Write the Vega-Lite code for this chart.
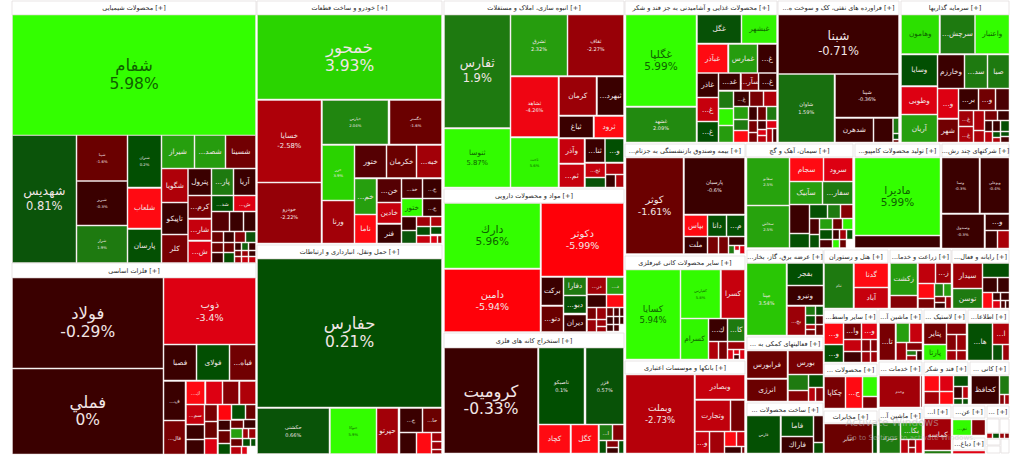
{"$schema":"https://vega.github.io/schema/vega-lite/v6.json","width":1024,"height":470,"autosize":{"type":"none"},"padding":0,"background":"#ffffff","config":{"view":{"stroke":null},"text":{"font":"DejaVu Sans"}},
"resolve":{"scale":{"size":"independent"}},
"datasets":{
"headers":[
{"x0":12,"x1":256,"y0":1,"y1":15,"name":"محصولات شیمیایی [+]"},
{"x0":12,"x1":256,"y0":263,"y1":278,"name":"فلزات اساسی [+]"},
{"x0":257,"x1":442,"y0":1,"y1":15,"name":"خودرو و ساخت قطعات [+]"},
{"x0":257,"x1":442,"y0":245,"y1":259,"name":"حمل ونقل، انبارداری و ارتباطات [+]"},
{"x0":444,"x1":624,"y0":1,"y1":15,"name":"انبوه سازی، املاک و مستغلات [+]"},
{"x0":444,"x1":624,"y0":189,"y1":203,"name":"مواد و محصولات دارویی [+]"},
{"x0":444,"x1":624,"y0":333,"y1":348,"name":"استخراج کانه های فلزی [+]"},
{"x0":625,"x1":777,"y0":1,"y1":15,"name":"محصولات غذایی و آشامیدنی به جز قند و شکر [+]"},
{"x0":778,"x1":899,"y0":1,"y1":15,"name":"...فراورده های نفتی، کک و سوخت ه [+]"},
{"x0":901,"x1":1009,"y0":1,"y1":15,"name":"سرمایه گذاریها [+]"},
{"x0":625,"x1":745,"y0":144,"y1":157,"name":"...بیمه وصندوق بازنشستگی به جزتام [+]"},
{"x0":746,"x1":853,"y0":144,"y1":157,"name":"سیمان، آهک و گچ [+]"},
{"x0":855,"x1":940,"y0":144,"y1":157,"name":"...تولید محصولات کامپیو [+]"},
{"x0":942,"x1":1009,"y0":144,"y1":157,"name":"...شرکتهای چند رش [+]"},
{"x0":625,"x1":745,"y0":256,"y1":270,"name":"سایر محصولات کانی غیرفلزی [+]"},
{"x0":625,"x1":745,"y0":361,"y1":374,"name":"بانکها و موسسات اعتباری [+]"},
{"x0":747,"x1":823,"y0":250,"y1":263,"name":"...عرضه برق، گاز، بخار [+]"},
{"x0":747,"x1":823,"y0":337,"y1":350,"name":"... فعالیتهای کمکی به [+]"},
{"x0":747,"x1":823,"y0":403,"y1":416,"name":"... ساخت محصولات [+]"},
{"x0":824,"x1":888,"y0":250,"y1":263,"name":"هتل و رستوران [+]"},
{"x0":890,"x1":951,"y0":250,"y1":263,"name":"...زراعت و خدما [+]"},
{"x0":952,"x1":1009,"y0":250,"y1":263,"name":"...رایانه و فعال [+]"},
{"x0":824,"x1":877,"y0":310,"y1":323,"name":"...سایر واسط [+]"},
{"x0":879,"x1":922,"y0":310,"y1":323,"name":"...ماشین آ [+]"},
{"x0":924,"x1":966,"y0":310,"y1":323,"name":"... لاستیک [+]"},
{"x0":968,"x1":1009,"y0":310,"y1":323,"name":"...اطلاعا [+]"},
{"x0":824,"x1":877,"y0":364,"y1":376,"name":"... محصولات [+]"},
{"x0":879,"x1":922,"y0":362,"y1":375,"name":"... خدمات [+]"},
{"x0":924,"x1":968,"y0":362,"y1":375,"name":"قند و شکر [+]"},
{"x0":970,"x1":1009,"y0":362,"y1":375,"name":"... کانی [+]"},
{"x0":824,"x1":877,"y0":411,"y1":423,"name":"مخابرات [+]"},
{"x0":879,"x1":922,"y0":409,"y1":422,"name":"...ماشین آ [+]"},
{"x0":924,"x1":951,"y0":406,"y1":418,"name":"...ا [+]"},
{"x0":953,"x1":985,"y0":406,"y1":418,"name":"...عن [+]"},
{"x0":953,"x1":985,"y0":438,"y1":450,"name":"...دباغ [+]"},
{"x0":987,"x1":1009,"y0":406,"y1":418,"name":"... [+]"},
{"x0":987,"x1":999,"y0":419,"y1":433},{"x0":1000,"x1":1009,"y0":419,"y1":433},{"x0":987,"x1":1000,"y0":439,"y1":445},{"x0":987,"x1":1000,"y0":446,"y1":453},{"x0":1001,"x1":1009,"y0":439,"y1":453}
],
"cells":[
{"x0":12.5,"x1":255.5,"y0":15,"y1":135,"change":5.98,"name":"شفام","pct":"5.98%","tier":1},
{"x0":12.5,"x1":76,"y0":135.5,"y1":262.5,"change":0.81,"name":"شهدیس","pct":"0.81%","tier":2},
{"x0":77,"x1":127,"y0":135.5,"y1":180.5,"change":-1.6,"name":"شپنا","pct":"-1.6%","tier":8},
{"x0":77,"x1":127,"y0":181.5,"y1":225,"change":-0.3,"name":"شبریز","pct":"-0.3%","tier":8},
{"x0":77,"x1":127,"y0":226,"y1":262.5,"change":1.9,"name":"شراز","pct":"1.9%","tier":8},
{"x0":128,"x1":161,"y0":135.5,"y1":187,"change":0.2,"name":"شتران","pct":"0.2%","tier":8},
{"x0":128,"x1":161,"y0":188.5,"y1":228,"change":-5,"name":"شلعاب","tier":6},
{"x0":128,"x1":161,"y0":229.5,"y1":262.5,"change":0.3,"name":"پارسان","tier":6},
{"x0":162,"x1":194,"y0":135.5,"y1":168,"change":2.4,"name":"شیراز","tier":6},
{"x0":195,"x1":225,"y0":135.5,"y1":168,"change":2.3,"name":"...شصد","tier":6},
{"x0":226,"x1":255.5,"y0":135.5,"y1":168,"change":-1.7,"name":"شسینا","tier":6},
{"x0":162,"x1":187.5,"y0":169,"y1":202,"change":-2.6,"name":"شگویا","tier":6},
{"x0":162,"x1":187.5,"y0":203,"y1":234,"change":-0.3,"name":"تاپیکو","tier":6},
{"x0":162,"x1":187.5,"y0":235,"y1":262.5,"change":-1.8,"name":"کلر","tier":6},
{"x0":188.5,"x1":211,"y0":169,"y1":195,"change":-0.3,"name":"پترول","tier":6},
{"x0":188.5,"x1":211,"y0":196,"y1":218,"change":-1.8,"name":"...کرم","tier":6},
{"x0":188.5,"x1":211,"y0":219.5,"y1":240,"change":-3,"name":"...شار","tier":6},
{"x0":188.5,"x1":211,"y0":241.5,"y1":262.5,"change":-3.4,"name":"...ش","tier":6},
{"x0":212,"x1":233,"y0":169,"y1":195,"change":1.9,"name":"...پار","tier":6},
{"x0":234,"x1":255.5,"y0":169,"y1":195,"change":-0.3,"name":"آریا","tier":6},
{"x0":212,"x1":233,"y0":196,"y1":211,"change":0.2,"name":"...شد","tier":7},
{"x0":234,"x1":255.5,"y0":196,"y1":211,"change":-3.4,"name":"...ش","tier":7},
{"x0":212,"x1":229,"y0":212,"y1":231,"change":-1.2},{"x0":230,"x1":243,"y0":212,"y1":231,"change":-0.5},{"x0":244,"x1":255.5,"y0":212,"y1":231,"change":-0.5},
{"x0":212,"x1":223,"y0":232,"y1":242,"change":-1.6},{"x0":224,"x1":234,"y0":232,"y1":242,"change":-0.5},{"x0":235,"x1":245,"y0":232,"y1":242,"change":-2},{"x0":246,"x1":255.5,"y0":232,"y1":242,"change":0.8},
{"x0":212,"x1":223,"y0":243,"y1":252,"change":-1.6},{"x0":224,"x1":234,"y0":243,"y1":252,"change":-1.6},
{"x0":212,"x1":223,"y0":253,"y1":262.5,"change":-0.5},{"x0":224,"x1":234,"y0":253,"y1":262.5,"change":0.2},
{"x0":235,"x1":241,"y0":243,"y1":250,"change":-0.3},{"x0":242,"x1":248,"y0":243,"y1":250,"change":1.2},{"x0":249,"x1":255.5,"y0":243,"y1":250,"change":-0.3},
{"x0":235,"x1":241,"y0":251,"y1":256,"change":-1.6},{"x0":242,"x1":248,"y0":251,"y1":256,"change":-2.3},{"x0":249,"x1":255.5,"y0":251,"y1":256,"change":-0.3},
{"x0":235,"x1":241,"y0":257,"y1":262.5,"change":-2.3},{"x0":242,"x1":248,"y0":257,"y1":262.5,"change":-3},{"x0":249,"x1":255.5,"y0":257,"y1":262.5,"change":-3},

{"x0":12.5,"x1":163,"y0":278,"y1":368,"change":-0.29,"name":"فولاد","pct":"-0.29%","tier":1},
{"x0":12.5,"x1":163,"y0":369,"y1":454,"change":0,"name":"فملي","pct":"0%","tier":1},
{"x0":164,"x1":255.5,"y0":278,"y1":344,"change":-3.4,"name":"ذوب","pct":"-3.4%","tier":4},
{"x0":164,"x1":196,"y0":345,"y1":380,"change":-0.3,"name":"فصبا","tier":6},
{"x0":197,"x1":229,"y0":345,"y1":380,"change":0.2,"name":"فولای","tier":6},
{"x0":230,"x1":255.5,"y0":345,"y1":380,"change":-1.7,"name":"...فباه","tier":6},
{"x0":164,"x1":185,"y0":381.5,"y1":420,"change":-0.5,"name":"...ف","tier":7},
{"x0":164,"x1":185,"y0":421,"y1":454,"change":-1.8,"name":"...فال","tier":7},
{"x0":186.5,"x1":204.5,"y0":381.5,"y1":404,"change":-5,"name":"...ك","tier":7},
{"x0":206,"x1":222,"y0":381.5,"y1":404,"change":-3.4},{"x0":223,"x1":238.5,"y0":381.5,"y1":404,"change":-2},{"x0":240,"x1":255.5,"y0":381.5,"y1":404,"change":-2.6},
{"x0":186.5,"x1":204,"y0":405,"y1":424,"change":-3,"name":"...سم","tier":7},
{"x0":205,"x1":217,"y0":405,"y1":421,"change":-1.8},{"x0":218.5,"x1":231,"y0":405,"y1":420,"change":-5.5},{"x0":232,"x1":245,"y0":405,"y1":419,"change":0.2},{"x0":246,"x1":255.5,"y0":405,"y1":419,"change":-1.6},
{"x0":186.5,"x1":204,"y0":425,"y1":439,"change":-0.5},{"x0":186.5,"x1":204,"y0":440,"y1":454,"change":-0.5},
{"x0":205,"x1":217,"y0":422,"y1":438,"change":-1.6},{"x0":205,"x1":217,"y0":439,"y1":454,"change":-3.4},
{"x0":218.5,"x1":230,"y0":420.5,"y1":430,"change":-0.3},{"x0":231,"x1":243,"y0":420.5,"y1":428,"change":-1.6},{"x0":244,"x1":255.5,"y0":420,"y1":428,"change":-0.3},
{"x0":218.5,"x1":230,"y0":431,"y1":443,"change":-1.6},{"x0":218.5,"x1":230,"y0":444,"y1":454,"change":0.2},
{"x0":231,"x1":242,"y0":429,"y1":438,"change":2.4},{"x0":243,"x1":248,"y0":429,"y1":438,"change":-2.3},{"x0":249,"x1":255.5,"y0":429,"y1":438,"change":-2.3},
{"x0":231,"x1":242,"y0":439,"y1":446,"change":-1.6},{"x0":243,"x1":250,"y0":439,"y1":446,"change":0.2},{"x0":251,"x1":255.5,"y0":439,"y1":446,"change":0.2},
{"x0":231,"x1":241,"y0":447,"y1":454,"change":-2.8},{"x0":242,"x1":247,"y0":447,"y1":454,"change":-3.4},

{"x0":257.5,"x1":441.5,"y0":15,"y1":99,"change":3.93,"name":"خمحور","pct":"3.93%","tier":1},
{"x0":257.5,"x1":321,"y0":100.5,"y1":182,"change":-2.58,"name":"خسایا","pct":"-2.58%","tier":6},
{"x0":257.5,"x1":321,"y0":183,"y1":243,"change":-2.22,"name":"خودرو","pct":"-2.22%","tier":7},
{"x0":322.5,"x1":388,"y0":100.5,"y1":144,"change":2.04,"name":"خپارس","pct":"2.04%","tier":8},
{"x0":390,"x1":441.5,"y0":100.5,"y1":144,"change":-1.6,"name":"خگستر","pct":"-1.6%","tier":8},
{"x0":322.5,"x1":354,"y0":145.5,"y1":200,"change":3.9,"name":"خزر","pct":"3.9%","tier":8},
{"x0":322.5,"x1":354,"y0":201,"y1":243,"change":-2.4,"name":"ورنا","tier":6},
{"x0":355,"x1":386,"y0":145.5,"y1":177.5,"change":-1.2,"name":"ختور","tier":6},
{"x0":387,"x1":416,"y0":145.5,"y1":177.5,"change":-1.6,"name":"خکرمان","tier":6},
{"x0":417,"x1":441.5,"y0":145.5,"y1":177.5,"change":-2.4,"name":"...خبه","tier":6},
{"x0":355,"x1":376,"y0":179,"y1":214,"change":2.4,"name":"...خم","tier":6},
{"x0":355,"x1":376,"y0":215,"y1":243,"change":-5,"name":"ناما","tier":6},
{"x0":377.5,"x1":401,"y0":179,"y1":202,"change":-1.2,"name":"...خن","tier":6},
{"x0":377.5,"x1":401,"y0":203,"y1":223,"change":-3,"name":"خادین","tier":6},
{"x0":377.5,"x1":401,"y0":224.5,"y1":243,"change":-0.3,"name":"فنر","tier":6},
{"x0":402,"x1":422,"y0":179,"y1":198,"change":-1,"name":"...خد","tier":7},
{"x0":423,"x1":441.5,"y0":179,"y1":198,"change":-0.3,"name":"...خ","tier":7},
{"x0":402,"x1":422,"y0":199,"y1":216,"change":5.9,"name":"ختور","tier":6},
{"x0":423,"x1":441.5,"y0":199,"y1":216,"change":-0.3,"name":"...خ","tier":7},
{"x0":402,"x1":416,"y0":217,"y1":230,"change":-0.3},{"x0":402,"x1":416,"y0":231,"y1":243,"change":0.8},
{"x0":417,"x1":430,"y0":217,"y1":226,"change":-2.4},{"x0":431,"x1":441.5,"y0":217,"y1":226,"change":-2.6},
{"x0":417,"x1":430,"y0":227,"y1":235,"change":0.2},{"x0":431,"x1":441.5,"y0":227,"y1":234,"change":0.2},
{"x0":417,"x1":430,"y0":236,"y1":243,"change":-3},{"x0":431,"x1":437,"y0":236,"y1":243,"change":-3.4},{"x0":438,"x1":441.5,"y0":236,"y1":243,"change":-2.3},

{"x0":257.5,"x1":441.5,"y0":259,"y1":407,"change":0.21,"name":"حفارس","pct":"0.21%","tier":1},
{"x0":257.5,"x1":329,"y0":408.5,"y1":453.5,"change":0.66,"name":"حکشتی","pct":"0.66%","tier":7},
{"x0":330.5,"x1":376,"y0":408.5,"y1":453.5,"change":5.9,"name":"حتوکا","pct":"5.9%","tier":8},
{"x0":377,"x1":398,"y0":408.5,"y1":453.5,"change":-2.4,"name":"حپرتو","tier":6},
{"x0":400,"x1":422,"y0":408.5,"y1":432,"change":-0.5,"name":"...ح","tier":7},
{"x0":423,"x1":441.5,"y0":408.5,"y1":432,"change":-1.6,"name":"...حا","tier":7},
{"x0":400,"x1":416,"y0":433,"y1":453.5,"change":-0.3},{"x0":417,"x1":431,"y0":433,"y1":453.5,"change":-5},
{"x0":432,"x1":441.5,"y0":433,"y1":441,"change":-2.3},{"x0":432,"x1":441.5,"y0":442,"y1":449,"change":-2.3},{"x0":432,"x1":441.5,"y0":450,"y1":453.5,"change":-2.3},

{"x0":444.5,"x1":510,"y0":15,"y1":127.5,"change":1.9,"name":"ثفارس","pct":"1.9%","tier":2},
{"x0":444.5,"x1":510,"y0":129,"y1":187,"change":5.87,"name":"ثنوسا","pct":"5.87%","tier":6},
{"x0":511,"x1":567,"y0":15,"y1":75.5,"change":2.32,"name":"ثشرق","pct":"2.32%","tier":7},
{"x0":568,"x1":623.5,"y0":15,"y1":75.5,"change":-2.27,"name":"ثقاف","pct":"-2.27%","tier":7},
{"x0":511,"x1":558,"y0":77,"y1":136.5,"change":-4.26,"name":"ثشاهد","pct":"-4.26%","tier":7},
{"x0":511,"x1":558,"y0":138,"y1":187,"change":5.6,"name":"ثاخت","pct":"5.6%","tier":8},
{"x0":559.5,"x1":596,"y0":77,"y1":115,"change":-2.3,"name":"کرمان","tier":6},
{"x0":597.5,"x1":623.5,"y0":77,"y1":115,"change":-0.3,"name":"...ثبهرد","tier":6},
{"x0":559.5,"x1":593,"y0":116.5,"y1":137.5,"change":-0.3,"name":"ثباغ","tier":6},
{"x0":594.5,"x1":623.5,"y0":116.5,"y1":137.5,"change":-5,"name":"ثرود","tier":6},
{"x0":559.5,"x1":584,"y0":139,"y1":163,"change":-3,"name":"وآذر","tier":6},
{"x0":585.5,"x1":604.5,"y0":139,"y1":162,"change":-0.3,"name":"...ثنا","tier":6},
{"x0":605.5,"x1":623.5,"y0":139,"y1":162,"change":0.2,"name":"...و","tier":6},
{"x0":559.5,"x1":584,"y0":164.5,"y1":187,"change":-3,"name":"...ثم","tier":6},
{"x0":585.5,"x1":605,"y0":163.5,"y1":177,"change":-3,"name":"...ثج","tier":7},
{"x0":606,"x1":623.5,"y0":163.5,"y1":174,"change":-2.6},
{"x0":585.5,"x1":605,"y0":178,"y1":187,"change":0.5},{"x0":606,"x1":615,"y0":175,"y1":187,"change":-0.3},{"x0":616,"x1":623.5,"y0":175,"y1":187,"change":-2.6},

{"x0":444.5,"x1":540,"y0":203.5,"y1":268,"change":5.96,"name":"دارك","pct":"5.96%","tier":3},
{"x0":444.5,"x1":540,"y0":269.5,"y1":331.5,"change":-5.94,"name":"دامین","pct":"-5.94%","tier":4},
{"x0":541.5,"x1":623.5,"y0":203.5,"y1":276,"change":-5.99,"name":"دکوثر","pct":"-5.99%","tier":4},
{"x0":541.5,"x1":563,"y0":277.5,"y1":305,"change":-0.3,"name":"برکت","tier":6},
{"x0":541.5,"x1":563,"y0":306.5,"y1":331.5,"change":-1.6,"name":"...دتو","tier":6},
{"x0":564,"x1":586,"y0":277.5,"y1":295,"change":1.9,"name":"دفارا","tier":6},
{"x0":564,"x1":586,"y0":296,"y1":313,"change":0.4,"name":"...دبو","tier":6},
{"x0":564,"x1":586,"y0":315,"y1":331.5,"change":-0.8,"name":"دیران","tier":6},
{"x0":587.5,"x1":606,"y0":277.5,"y1":294,"change":-2.4,"name":"...در","tier":7},
{"x0":607,"x1":623.5,"y0":277.5,"y1":294,"change":2.4,"name":"...د","tier":7},
{"x0":587.5,"x1":606,"y0":295,"y1":307,"change":-0.3},{"x0":607,"x1":623.5,"y0":295,"y1":307,"change":-5},
{"x0":587.5,"x1":596,"y0":308,"y1":319,"change":-1.8},{"x0":597,"x1":606,"y0":308,"y1":319,"change":-2.3},
{"x0":587.5,"x1":596,"y0":320,"y1":331.5,"change":-2.3},{"x0":597,"x1":606,"y0":320,"y1":326,"change":-2.3},{"x0":597,"x1":606,"y0":327,"y1":331.5,"change":-2.3},
{"x0":607,"x1":613,"y0":308,"y1":316,"change":-1.6},{"x0":614,"x1":619,"y0":308,"y1":316,"change":-1},{"x0":620,"x1":623.5,"y0":308,"y1":316,"change":-1},
{"x0":607,"x1":613,"y0":317,"y1":324,"change":-0.3},{"x0":614,"x1":619,"y0":317,"y1":324,"change":-0.3},{"x0":620,"x1":623.5,"y0":317,"y1":324,"change":-0.5},
{"x0":607,"x1":613,"y0":325,"y1":331,"change":-0.3},{"x0":614,"x1":619,"y0":325,"y1":331,"change":-1},

{"x0":444.5,"x1":537.5,"y0":348,"y1":453,"change":-0.33,"name":"کرومیت","pct":"-0.33%","tier":1},
{"x0":539,"x1":584,"y0":348,"y1":424,"change":0.1,"name":"تاصیکو","pct":"0.1%","tier":7},
{"x0":586,"x1":623.5,"y0":348,"y1":424,"change":0.57,"name":"فزر","pct":"0.57%","tier":7},
{"x0":539,"x1":570,"y0":425,"y1":453,"change":-5,"name":"کچاد","tier":6},
{"x0":571.5,"x1":598,"y0":425,"y1":453,"change":-5,"name":"کگل","tier":6},
{"x0":599.5,"x1":612,"y0":425,"y1":440,"change":1.9,"name":"...ا","tier":7},
{"x0":613,"x1":623.5,"y0":425,"y1":440,"change":-2},
{"x0":599.5,"x1":606,"y0":441,"y1":453,"change":0.4},{"x0":607,"x1":618,"y0":441,"y1":447,"change":-2},{"x0":607,"x1":618,"y0":448,"y1":453,"change":-0.3},{"x0":619,"x1":623.5,"y0":441,"y1":453,"change":0.4},

{"x0":626,"x1":696,"y0":15,"y1":106,"change":5.99,"name":"غگلپا","pct":"5.99%","tier":3},
{"x0":626,"x1":696,"y0":107.5,"y1":142,"change":2.09,"name":"غشهد","pct":"2.09%","tier":7},
{"x0":697.5,"x1":741,"y0":15,"y1":43,"change":0.5,"name":"غگل","tier":6},
{"x0":742,"x1":776.5,"y0":15,"y1":43,"change":5.5,"name":"غبشهر","tier":6},
{"x0":697.5,"x1":727.5,"y0":44.5,"y1":72.5,"change":-5,"name":"غبآذر","tier":6},
{"x0":729,"x1":757,"y0":44.5,"y1":72.5,"change":2.3,"name":"غمارس","tier":6},
{"x0":758,"x1":776.5,"y0":44.5,"y1":72.5,"change":-0.3,"name":"...غ","tier":6},
{"x0":697.5,"x1":718,"y0":73.5,"y1":97,"change":-0.3,"name":"غاذر","tier":6},
{"x0":719,"x1":740,"y0":73.5,"y1":90,"change":-0.3,"name":"...غد","tier":6},
{"x0":741.5,"x1":758,"y0":73.5,"y1":90,"change":-1.8,"name":"...سآر","tier":6},
{"x0":759,"x1":776.5,"y0":73.5,"y1":90,"change":-0.3,"name":"...غ","tier":6},
{"x0":697.5,"x1":718,"y0":98,"y1":121,"change":-3,"name":"...غ","tier":6},
{"x0":697.5,"x1":718,"y0":122,"y1":142,"change":0.2,"name":"...غ","tier":6},
{"x0":719,"x1":733,"y0":91.5,"y1":108,"change":1.9},{"x0":719,"x1":733,"y0":109,"y1":125,"change":5.6},{"x0":719,"x1":733,"y0":126,"y1":142,"change":2.3},
{"x0":734,"x1":749,"y0":91.5,"y1":106,"change":-0.3,"name":"...غ","tier":7},
{"x0":750,"x1":763,"y0":91.5,"y1":106,"change":-1.8},{"x0":764,"x1":776.5,"y0":91.5,"y1":106,"change":-2.6},
{"x0":734,"x1":748,"y0":107,"y1":119,"change":2.4},{"x0":734,"x1":748,"y0":120,"y1":130,"change":1.9},{"x0":734,"x1":748,"y0":131,"y1":142,"change":-5},
{"x0":749,"x1":757,"y0":107,"y1":120,"change":-0.5},{"x0":758,"x1":766,"y0":107,"y1":120,"change":-1.6},{"x0":767,"x1":776.5,"y0":107,"y1":120,"change":1.9},
{"x0":749,"x1":757,"y0":121,"y1":132,"change":-1.8},{"x0":749,"x1":757,"y0":133,"y1":142,"change":-1.8},
{"x0":758,"x1":766,"y0":121,"y1":129,"change":-1},{"x0":767,"x1":776.5,"y0":121,"y1":128,"change":-3.4},
{"x0":758,"x1":766,"y0":130,"y1":135,"change":-3.4},{"x0":758,"x1":766,"y0":136,"y1":142,"change":-2.8},{"x0":767,"x1":772,"y0":129,"y1":142,"change":-2.6},{"x0":773,"x1":776.5,"y0":129,"y1":142,"change":-1},

{"x0":778.5,"x1":898.5,"y0":15,"y1":73.5,"change":-0.71,"name":"شبنا","pct":"-0.71%","tier":2},
{"x0":778.5,"x1":834,"y0":74.5,"y1":142,"change":1.59,"name":"شاوان","pct":"1.59%","tier":7},
{"x0":835.5,"x1":898.5,"y0":74.5,"y1":117,"change":-0.36,"name":"شپنا","pct":"-0.36%","tier":7},
{"x0":835.5,"x1":873,"y0":118.5,"y1":142,"change":-0.3,"name":"شدهرن","tier":6},
{"x0":874,"x1":892.5,"y0":118.5,"y1":142,"change":-0.3},{"x0":893.5,"x1":898.5,"y0":118.5,"y1":133,"change":1.9},{"x0":893.5,"x1":898.5,"y0":134,"y1":139,"change":0.3},{"x0":893.5,"x1":898.5,"y0":140,"y1":142,"change":-1.6},

{"x0":901.5,"x1":939,"y0":15,"y1":53.5,"change":4.5,"name":"وهامون","tier":6},
{"x0":940.5,"x1":974.5,"y0":15,"y1":53.5,"change":1.9,"name":"...سرچش","tier":6},
{"x0":975.5,"x1":1009,"y0":15,"y1":53.5,"change":5.9,"name":"واعتبار","tier":6},
{"x0":901.5,"x1":937,"y0":55,"y1":85.5,"change":0.2,"name":"وسایا","tier":6},
{"x0":938,"x1":964,"y0":55,"y1":88,"change":-0.7,"name":"وخارزم","tier":6},
{"x0":965,"x1":987,"y0":55,"y1":88,"change":1.9,"name":"...سد","tier":6},
{"x0":988,"x1":1009,"y0":55,"y1":88,"change":1.9,"name":"صبا","tier":6},
{"x0":901.5,"x1":937,"y0":87,"y1":114,"change":-3.4,"name":"وطوبی","tier":6},
{"x0":901.5,"x1":937,"y0":115,"y1":142,"change":2.4,"name":"آریان","tier":6},
{"x0":938,"x1":958,"y0":89,"y1":118,"change":-3.4,"name":"...و","tier":6},
{"x0":938,"x1":958,"y0":119.5,"y1":142,"change":-1.7,"name":"شهر","tier":6},
{"x0":959,"x1":978,"y0":89,"y1":110,"change":-0.3,"name":"...بر","tier":6},
{"x0":979,"x1":995,"y0":89,"y1":110,"change":-1.7,"name":"...و","tier":6},
{"x0":996,"x1":1009,"y0":89,"y1":110,"change":-1},
{"x0":959,"x1":973,"y0":111,"y1":126,"change":-2.4,"name":"...غ","tier":7},
{"x0":959,"x1":973,"y0":127,"y1":142,"change":-2.6,"name":"...غ","tier":7},
{"x0":974,"x1":984,"y0":111,"y1":130,"change":-2.6},{"x0":974,"x1":984,"y0":131,"y1":142,"change":-2.6},
{"x0":985,"x1":997,"y0":111,"y1":120,"change":-1.8},{"x0":998,"x1":1009,"y0":111,"y1":120,"change":-0.3},
{"x0":985,"x1":992,"y0":121,"y1":131,"change":-0.3},{"x0":993,"x1":1000,"y0":121,"y1":131,"change":-0.3},{"x0":1001,"x1":1009,"y0":121,"y1":131,"change":0.3},
{"x0":985,"x1":992,"y0":132,"y1":142,"change":-2.8},{"x0":993,"x1":1000,"y0":132,"y1":137,"change":0.3},{"x0":993,"x1":1000,"y0":138,"y1":142,"change":-2.6},{"x0":1001,"x1":1009,"y0":132,"y1":136,"change":0.3},{"x0":1001,"x1":1009,"y0":137,"y1":142,"change":-1},

{"x0":626,"x1":683,"y0":158,"y1":253.5,"change":-1.61,"name":"کوثر","pct":"-1.61%","tier":4},
{"x0":684.5,"x1":744.5,"y0":158,"y1":214,"change":-0.6,"name":"پارسیان","pct":"-0.6%","tier":7},
{"x0":684.5,"x1":707,"y0":215.5,"y1":236,"change":-5,"name":"بپاس","tier":6},
{"x0":708,"x1":726,"y0":215.5,"y1":236,"change":0.3,"name":"دانا","tier":6},
{"x0":727,"x1":744.5,"y0":215.5,"y1":236,"change":0.3,"name":"...م","tier":6},
{"x0":684.5,"x1":707,"y0":237,"y1":253.5,"change":-0.4,"name":"ملت","tier":6},
{"x0":708,"x1":718,"y0":237,"y1":253.5,"change":-1.8},{"x0":719,"x1":728,"y0":237,"y1":253.5,"change":-1.8},{"x0":729,"x1":744.5,"y0":237,"y1":245,"change":-0.3},
{"x0":729,"x1":734,"y0":246,"y1":253.5,"change":1.9},{"x0":735,"x1":739,"y0":246,"y1":250,"change":-3.4},{"x0":740,"x1":744.5,"y0":246,"y1":253.5,"change":-3.4},

{"x0":747,"x1":789,"y0":158,"y1":205,"change":2.5,"name":"سفانو","pct":"2.5%","tier":8},
{"x0":747,"x1":789,"y0":206,"y1":247.5,"change":2.5,"name":"سخاش","pct":"2.5%","tier":8},
{"x0":790,"x1":823,"y0":158,"y1":181,"change":-5,"name":"سجام","tier":6},
{"x0":824,"x1":852.5,"y0":158,"y1":181,"change":-3.4,"name":"سرود","tier":6},
{"x0":790,"x1":822,"y0":182,"y1":204,"change":2.4,"name":"سآبیک","tier":6},
{"x0":823,"x1":852.5,"y0":182,"y1":204,"change":1.9,"name":"...سفار","tier":6},
{"x0":790,"x1":809,"y0":205,"y1":233,"change":-0.5},{"x0":790,"x1":809,"y0":234,"y1":247.5,"change":0.3},
{"x0":810,"x1":827,"y0":205,"y1":218,"change":0.3},{"x0":828,"x1":840,"y0":205,"y1":218,"change":1.9},{"x0":841,"x1":852.5,"y0":205,"y1":218,"change":-2},
{"x0":810,"x1":819,"y0":219,"y1":234,"change":-1},{"x0":810,"x1":819,"y0":235,"y1":247.5,"change":0.3},
{"x0":820,"x1":832,"y0":219,"y1":229,"change":2.4},{"x0":833,"x1":842,"y0":219,"y1":229,"change":-1.6},{"x0":843,"x1":852.5,"y0":219,"y1":229,"change":5.6},
{"x0":820,"x1":832,"y0":230,"y1":239,"change":0.3},{"x0":833,"x1":839,"y0":230,"y1":239,"change":-0.3},{"x0":840,"x1":846,"y0":230,"y1":239,"change":-2.4},{"x0":847,"x1":852.5,"y0":230,"y1":239,"change":0.3},
{"x0":820,"x1":832,"y0":240,"y1":247.5,"change":-1},{"x0":833,"x1":839,"y0":240,"y1":247.5,"change":5.6},{"x0":840,"x1":846,"y0":240,"y1":247.5,"change":-1.6},

{"x0":855,"x1":940,"y0":158,"y1":235,"change":5.99,"name":"مادیرا","pct":"5.99%","tier":3},
{"x0":855,"x1":940,"y0":236,"y1":247.5,"change":-0.3},
{"x0":942,"x1":979,"y0":158,"y1":213,"change":-0.3,"name":"وصنا","pct":"-0.3%","tier":8},
{"x0":980.5,"x1":1009,"y0":158,"y1":213,"change":-0.4,"name":"وبوعلی","pct":"-0.4%","tier":8},
{"x0":942,"x1":984,"y0":214.5,"y1":248,"change":-0.3,"name":"وصندوق","pct":"-0.3%","tier":8},
{"x0":985.5,"x1":1009,"y0":214.5,"y1":230,"change":-0.3,"name":"...و","tier":6},
{"x0":985.5,"x1":997,"y0":231,"y1":248,"change":-0.3},{"x0":998,"x1":1009,"y0":231,"y1":248,"change":-2.5},

{"x0":626,"x1":680,"y0":270,"y1":359,"change":5.94,"name":"کسایا","pct":"5.94%","tier":5},
{"x0":681,"x1":720,"y0":270,"y1":318,"change":5.8,"name":"کفپارس","pct":"5.8%","tier":8},
{"x0":681,"x1":708,"y0":319,"y1":359,"change":5.6,"name":"کسرام","tier":6},
{"x0":721.5,"x1":744.5,"y0":270,"y1":318,"change":-3,"name":"کسرا","tier":6},
{"x0":709,"x1":727,"y0":319,"y1":341,"change":-0.3,"name":"...ك","tier":6},
{"x0":728,"x1":744.5,"y0":319,"y1":341,"change":1.9,"name":"...کا","tier":6},
{"x0":709,"x1":718,"y0":342,"y1":359,"change":-2.6},{"x0":719,"x1":727,"y0":342,"y1":359,"change":-1.8},{"x0":728,"x1":744.5,"y0":342,"y1":349,"change":-2.3},
{"x0":728,"x1":733,"y0":350,"y1":359,"change":-3.4},{"x0":734,"x1":739,"y0":350,"y1":354,"change":-3.4},{"x0":734,"x1":739,"y0":355,"y1":359,"change":-0.3},{"x0":740,"x1":744.5,"y0":350,"y1":359,"change":-3.4},

{"x0":626,"x1":694,"y0":375,"y1":453,"change":-2.73,"name":"وبملت","pct":"-2.73%","tier":5},
{"x0":695.5,"x1":744.5,"y0":375,"y1":399,"change":-3,"name":"وبصادر","tier":6},
{"x0":695.5,"x1":730,"y0":400.5,"y1":431,"change":-2.9,"name":"وتجارت","tier":6},
{"x0":731,"x1":744.5,"y0":400.5,"y1":431,"change":-1.8},
{"x0":695.5,"x1":709,"y0":432,"y1":453,"change":-3,"name":"...و","tier":6},
{"x0":710,"x1":724,"y0":432,"y1":453,"change":-2.4},{"x0":725,"x1":736,"y0":432,"y1":446,"change":-5},{"x0":737,"x1":744.5,"y0":432,"y1":446,"change":-3},
{"x0":725,"x1":741,"y0":447,"y1":453,"change":-0.3},{"x0":742,"x1":744.5,"y0":447,"y1":453,"change":-1.8},

{"x0":747,"x1":786,"y0":263.5,"y1":335,"change":3.54,"name":"مپنا","pct":"3.54%","tier":7},
{"x0":787.5,"x1":823,"y0":263.5,"y1":285,"change":0.2,"name":"بفجر","tier":6},
{"x0":787.5,"x1":823,"y0":286,"y1":305,"change":-0.4,"name":"ونیرو","tier":6},
{"x0":787.5,"x1":805,"y0":306.5,"y1":335,"change":-2.3,"name":"...بج","tier":7},
{"x0":806,"x1":815,"y0":306.5,"y1":315,"change":1.9},{"x0":816,"x1":823,"y0":306.5,"y1":315,"change":0.3},
{"x0":806,"x1":815,"y0":316,"y1":324,"change":0.3},{"x0":816,"x1":823,"y0":316,"y1":324,"change":-1},
{"x0":806,"x1":815,"y0":325,"y1":329,"change":-2.6},{"x0":806,"x1":815,"y0":330,"y1":335,"change":-1.8},{"x0":816,"x1":823,"y0":325,"y1":335,"change":-1.6},

{"x0":747,"x1":787,"y0":351,"y1":378,"change":-1.6,"name":"فرابورس","tier":6},
{"x0":788.5,"x1":823,"y0":351,"y1":374,"change":-1.8,"name":"بورس","tier":6},
{"x0":747,"x1":787,"y0":379.5,"y1":401,"change":-1.6,"name":"انرژی","tier":6},
{"x0":788.5,"x1":808,"y0":375,"y1":390,"change":1.9},{"x0":809,"x1":823,"y0":375,"y1":387,"change":0.3},
{"x0":788.5,"x1":808,"y0":391,"y1":401,"change":-2},{"x0":809,"x1":815,"y0":388,"y1":401,"change":-2.8},{"x0":816,"x1":823,"y0":388,"y1":401,"change":-2},

{"x0":747,"x1":780,"y0":416,"y1":453,"change":0.3,"name":"فارس","tier":8},
{"x0":781.5,"x1":813,"y0":416,"y1":436,"change":0.3,"name":"فاما","tier":6},
{"x0":781.5,"x1":813,"y0":437,"y1":453,"change":-0.5,"name":"فاراك","tier":6},
{"x0":814,"x1":823,"y0":416,"y1":442,"change":-0.7},{"x0":814,"x1":823,"y0":443,"y1":453,"change":0.3},

{"x0":824.5,"x1":853,"y0":263.5,"y1":308,"change":1.9,"name":"ثنام","tier":8},
{"x0":854.5,"x1":888,"y0":263.5,"y1":287,"change":-5,"name":"گدنا","tier":6},
{"x0":854.5,"x1":888,"y0":288,"y1":308,"change":-3,"name":"آباد","tier":6},

{"x0":890.5,"x1":917,"y0":263.5,"y1":295,"change":2.3,"name":"زکشت","tier":6},
{"x0":890.5,"x1":917,"y0":296,"y1":308,"change":-2},
{"x0":918.5,"x1":935,"y0":263.5,"y1":283,"change":-2.9},
{"x0":936,"x1":951,"y0":263.5,"y1":283,"change":-2.3,"name":"...ز","tier":6},
{"x0":918.5,"x1":934,"y0":284,"y1":298,"change":-5},{"x0":918.5,"x1":934,"y0":299,"y1":308,"change":-1.8},
{"x0":935,"x1":943,"y0":284,"y1":296,"change":1.9},{"x0":944,"x1":951,"y0":284,"y1":296,"change":2.4},
{"x0":935,"x1":945,"y0":297,"y1":302,"change":-1.8},{"x0":935,"x1":945,"y0":303,"y1":308,"change":-0.5},{"x0":946,"x1":951,"y0":297,"y1":308,"change":-2.3},

{"x0":953,"x1":982,"y0":263.5,"y1":288,"change":-2.3,"name":"سیدار","tier":6},
{"x0":953,"x1":982,"y0":289,"y1":308,"change":1.9,"name":"توسن","tier":6},
{"x0":983,"x1":1009,"y0":263.5,"y1":277,"change":0.2},{"x0":983,"x1":997,"y0":278,"y1":292,"change":-0.5},{"x0":998,"x1":1009,"y0":278,"y1":292,"change":-0.3},
{"x0":983,"x1":992,"y0":293,"y1":308,"change":-5},{"x0":993,"x1":1000,"y0":293,"y1":300,"change":-0.3},{"x0":1001,"x1":1009,"y0":293,"y1":300,"change":-0.3},
{"x0":993,"x1":1000,"y0":301,"y1":308,"change":-3.4},{"x0":1001,"x1":1005,"y0":301,"y1":308,"change":-1},{"x0":1006,"x1":1009,"y0":301,"y1":308,"change":-0.3},

{"x0":824.5,"x1":843,"y0":323.5,"y1":344,"change":-5,"name":"...و","tier":6},
{"x0":844,"x1":861,"y0":323.5,"y1":339,"change":-1.8,"name":"...وا","tier":6},
{"x0":862,"x1":877,"y0":323.5,"y1":339,"change":-3.6,"name":"...و","tier":6},
{"x0":824.5,"x1":843,"y0":345,"y1":362,"change":0.3,"name":"...و","tier":6},
{"x0":844,"x1":861,"y0":340,"y1":351,"change":-3},{"x0":862,"x1":870,"y0":340,"y1":351,"change":-2},{"x0":871,"x1":877,"y0":340,"y1":351,"change":-2},
{"x0":844,"x1":861,"y0":352,"y1":362,"change":-0.8},{"x0":862,"x1":870,"y0":352,"y1":362,"change":-2.3},{"x0":871,"x1":877,"y0":352,"y1":362,"change":-2.3},

{"x0":879.5,"x1":895,"y0":323.5,"y1":360,"change":-1.8,"name":"...تا","tier":6},
{"x0":896.5,"x1":909,"y0":323.5,"y1":342,"change":2.4},{"x0":910,"x1":922,"y0":323.5,"y1":342,"change":-3},
{"x0":896.5,"x1":906,"y0":343,"y1":360,"change":-2.3},{"x0":907,"x1":922,"y0":343,"y1":350,"change":-2},
{"x0":907,"x1":916,"y0":351,"y1":355,"change":1.9},{"x0":907,"x1":916,"y0":356,"y1":360,"change":-2.3},{"x0":917,"x1":922,"y0":351,"y1":360,"change":-0.3},

{"x0":924,"x1":946,"y0":323.5,"y1":344,"change":-1.7,"name":"پتایر","tier":6},
{"x0":924,"x1":946,"y0":345,"y1":360,"change":5.6,"name":"پارتا","tier":6},
{"x0":947,"x1":966,"y0":323.5,"y1":334,"change":-2},
{"x0":947,"x1":956,"y0":335,"y1":350,"change":-2},{"x0":957,"x1":966,"y0":335,"y1":350,"change":-2.3},
{"x0":947,"x1":956,"y0":351,"y1":360,"change":-2.4},{"x0":957,"x1":966,"y0":351,"y1":360,"change":-2.3},

{"x0":968,"x1":992,"y0":323.5,"y1":360,"change":0.3,"name":"...ها","tier":6},
{"x0":993,"x1":1009,"y0":323.5,"y1":344,"change":-2.6,"name":"...ا","tier":6},
{"x0":993,"x1":1002,"y0":345,"y1":360,"change":0.6},{"x0":1003,"x1":1009,"y0":345,"y1":360,"change":-2.3},

{"x0":824.5,"x1":845,"y0":377,"y1":408,"change":-1.8,"name":"چکاپا","tier":6},
{"x0":846,"x1":862,"y0":377,"y1":408,"change":-5,"name":"...ج","tier":6},
{"x0":863,"x1":877,"y0":377,"y1":396,"change":5.8},{"x0":863,"x1":877,"y0":397,"y1":408,"change":-1.8},

{"x0":879.5,"x1":920,"y0":376,"y1":407,"change":-2.4,"name":"وخدم","tier":8},{"x0":921,"x1":922,"y0":376,"y1":407,"change":-1.8},

{"x0":924.5,"x1":939,"y0":376,"y1":391,"change":-5},{"x0":940,"x1":953,"y0":376,"y1":391,"change":-3.4},{"x0":954,"x1":968,"y0":376,"y1":386,"change":0.3},
{"x0":924.5,"x1":939,"y0":392,"y1":404,"change":-2.4},{"x0":940,"x1":953,"y0":392,"y1":404,"change":-5},
{"x0":954,"x1":962,"y0":387,"y1":398,"change":-0.3},{"x0":963,"x1":968,"y0":387,"y1":398,"change":-2.8},{"x0":954,"x1":962,"y0":399,"y1":404,"change":0.3},{"x0":963,"x1":968,"y0":399,"y1":404,"change":0.3},

{"x0":971.5,"x1":999,"y0":376,"y1":404,"change":-0.5,"name":"کحافظ","tier":6},
{"x0":1000,"x1":1009,"y0":376,"y1":394,"change":1.9},{"x0":1000,"x1":1004,"y0":395,"y1":404,"change":-2},{"x0":1005,"x1":1009,"y0":395,"y1":404,"change":-2.4},

{"x0":824.5,"x1":872,"y0":424,"y1":453,"change":-1.6,"name":"اخابر","tier":7},{"x0":873,"x1":877,"y0":424,"y1":453,"change":0.3},

{"x0":879.5,"x1":900,"y0":423,"y1":453,"change":1.9,"name":"سیتراد","tier":7},
{"x0":901,"x1":922,"y0":423,"y1":439,"change":2.4,"name":"...بكا","tier":6},
{"x0":901,"x1":908,"y0":440,"y1":453,"change":-2.8},{"x0":909,"x1":915,"y0":440,"y1":447,"change":-2},{"x0":916,"x1":922,"y0":440,"y1":453,"change":-3.4},{"x0":909,"x1":915,"y0":448,"y1":453,"change":-2.3},

{"x0":924.5,"x1":951,"y0":419,"y1":450,"change":-2.4,"name":"کماسه","tier":6},
{"x0":924.5,"x1":951,"y0":451,"y1":453.5,"change":1.9},
{"x0":953,"x1":971,"y0":420,"y1":435,"change":5.8,"name":"...نم","tier":7},
{"x0":972,"x1":985,"y0":420,"y1":435,"change":-2},
{"x0":953,"x1":985,"y0":451,"y1":453.5,"change":-3.6},
{"x0":987,"x1":992,"y0":433.5,"y1":438,"change":-2.8},{"x0":993,"x1":999,"y0":433.5,"y1":438,"change":0.5},{"x0":1000,"x1":1004,"y0":433.5,"y1":438,"change":-2.3},{"x0":1005,"x1":1009,"y0":433.5,"y1":438,"change":-2}
],
"notes":[
{"x0":838,"x1":946,"y0":414,"y1":432,"name":"Activate Windows","tier":1},
{"x0":836,"x1":986,"y0":429,"y1":447,"name":"Go to Settings to activate Windows.","tier":2}
]},
"layer":[
{"data":{"name":"headers"},"mark":{"type":"rect","fill":"#ffffff","stroke":"#e3dede","strokeWidth":0.8},
 "encoding":{"x":{"field":"x0","type":"quantitative","scale":{"domain":[0,1024],"nice":false,"zero":false},"axis":null},"x2":{"field":"x1"},"y":{"field":"y0","type":"quantitative","scale":{"domain":[470,0],"nice":false,"zero":false},"axis":null},"y2":{"field":"y1"}}},
{"data":{"name":"headers"},"transform":[{"filter":"datum.name"},{"fold":["x0","x1"],"as":["xk","xv"]},{"fold":["y0","y1"],"as":["yk","yv"]},{"aggregate":[{"op":"mean","field":"xv","as":"cx"},{"op":"mean","field":"yv","as":"cy"}],"groupby":["x0","y0","name"]}],
 "mark":{"type":"text","fontSize":6.5,"color":"#2b2b2b","align":"center","baseline":"middle"},
 "encoding":{"x":{"field":"cx","type":"quantitative","axis":null},"y":{"field":"cy","type":"quantitative","axis":null},"text":{"field":"name"}}},
{"data":{"name":"cells"},"mark":{"type":"rect","stroke":"#e8dcdc","strokeWidth":0.5},
 "encoding":{"x":{"field":"x0","type":"quantitative","axis":null},"x2":{"field":"x1"},"y":{"field":"y0","type":"quantitative","axis":null},"y2":{"field":"y1"},
 "color":{"field":"change","type":"quantitative","legend":null,"scale":{"type":"linear","clamp":true,"domain":[-6,-5,-3.4,-2.5,-1.6,-0.7,0,0.01,0.8,1.9,2.3,3.93,6],"range":["#ff0008","#ff0a12","#dd0012","#a90008","#6a0000","#3a0000","#3a0000","#004d00","#0b540a","#1e7a10","#269c0e","#2ad400","#33ff00"]}}}},
{"data":{"name":"cells"},"transform":[{"filter":"datum.name && !datum.pct"},{"fold":["x0","x1"],"as":["xk","xv"]},{"fold":["y0","y1"],"as":["yk","yv"]},{"aggregate":[{"op":"mean","field":"xv","as":"cx"},{"op":"mean","field":"yv","as":"cy"}],"groupby":["x0","y0","name","change","tier"]}],
 "mark":{"type":"text","align":"center","baseline":"middle"},
 "encoding":{"x":{"field":"cx","type":"quantitative","axis":null},"y":{"field":"cy","type":"quantitative","axis":null},"text":{"field":"name"},"size":{"field":"tier","type":"quantitative","legend":null,"scale":{"zero":false,"nice":false,"domain":[1,2,3,4,5,6,7,8],"range":[16.5,12.5,11,10,9,7.3,5.3,3.8]}},"color":{"condition":{"test":"datum.change>=4.2","value":"#0f6200"},"value":"#f2e6e6"}}},
{"data":{"name":"cells"},"transform":[{"filter":"datum.name && datum.pct"},{"fold":["x0","x1"],"as":["xk","xv"]},{"fold":["y0","y1"],"as":["yk","yv"]},{"aggregate":[{"op":"mean","field":"xv","as":"cx"},{"op":"mean","field":"yv","as":"cy"}],"groupby":["x0","y0","name","pct","change","tier"]}],
 "mark":{"type":"text","align":"center","baseline":"bottom","dy":-1},
 "encoding":{"x":{"field":"cx","type":"quantitative","axis":null},"y":{"field":"cy","type":"quantitative","axis":null},"text":{"field":"name"},"size":{"field":"tier","type":"quantitative","legend":null,"scale":{"zero":false,"nice":false,"domain":[1,2,3,4,5,6,7,8],"range":[16.5,12.5,11,10,9,7.3,5.3,3.8]}},"color":{"condition":{"test":"datum.change>=4.2","value":"#0f6200"},"value":"#f2e6e6"}}},
{"data":{"name":"cells"},"transform":[{"filter":"datum.name && datum.pct"},{"fold":["x0","x1"],"as":["xk","xv"]},{"fold":["y0","y1"],"as":["yk","yv"]},{"aggregate":[{"op":"mean","field":"xv","as":"cx"},{"op":"mean","field":"yv","as":"cy"}],"groupby":["x0","y0","name","pct","change","tier"]}],
 "mark":{"type":"text","align":"center","baseline":"top","dy":1.5},
 "encoding":{"x":{"field":"cx","type":"quantitative","axis":null},"y":{"field":"cy","type":"quantitative","axis":null},"text":{"field":"pct"},"size":{"field":"tier","type":"quantitative","legend":null,"scale":{"zero":false,"nice":false,"domain":[1,2,3,4,5,6,7,8],"range":[15.5,11.5,10.5,9.5,8.5,6.8,5,3.8]}},"color":{"condition":{"test":"datum.change>=4.2","value":"#0f6200"},"value":"#f2e6e6"}}},
{"data":{"name":"notes"},"transform":[{"fold":["x0","x1"],"as":["xk","xv"]},{"fold":["y0","y1"],"as":["yk","yv"]},{"aggregate":[{"op":"mean","field":"xv","as":"cx"},{"op":"mean","field":"yv","as":"cy"}],"groupby":["x0","y0","name","tier"]}],
 "mark":{"type":"text","color":"#bdbdbd","opacity":0.55,"align":"center","baseline":"middle"},
 "encoding":{"x":{"field":"cx","type":"quantitative","axis":null},"y":{"field":"cy","type":"quantitative","axis":null},"text":{"field":"name"},"size":{"field":"tier","type":"quantitative","legend":null,"scale":{"zero":false,"nice":false,"domain":[1,2],"range":[10.5,7.2]}}}}
]}
